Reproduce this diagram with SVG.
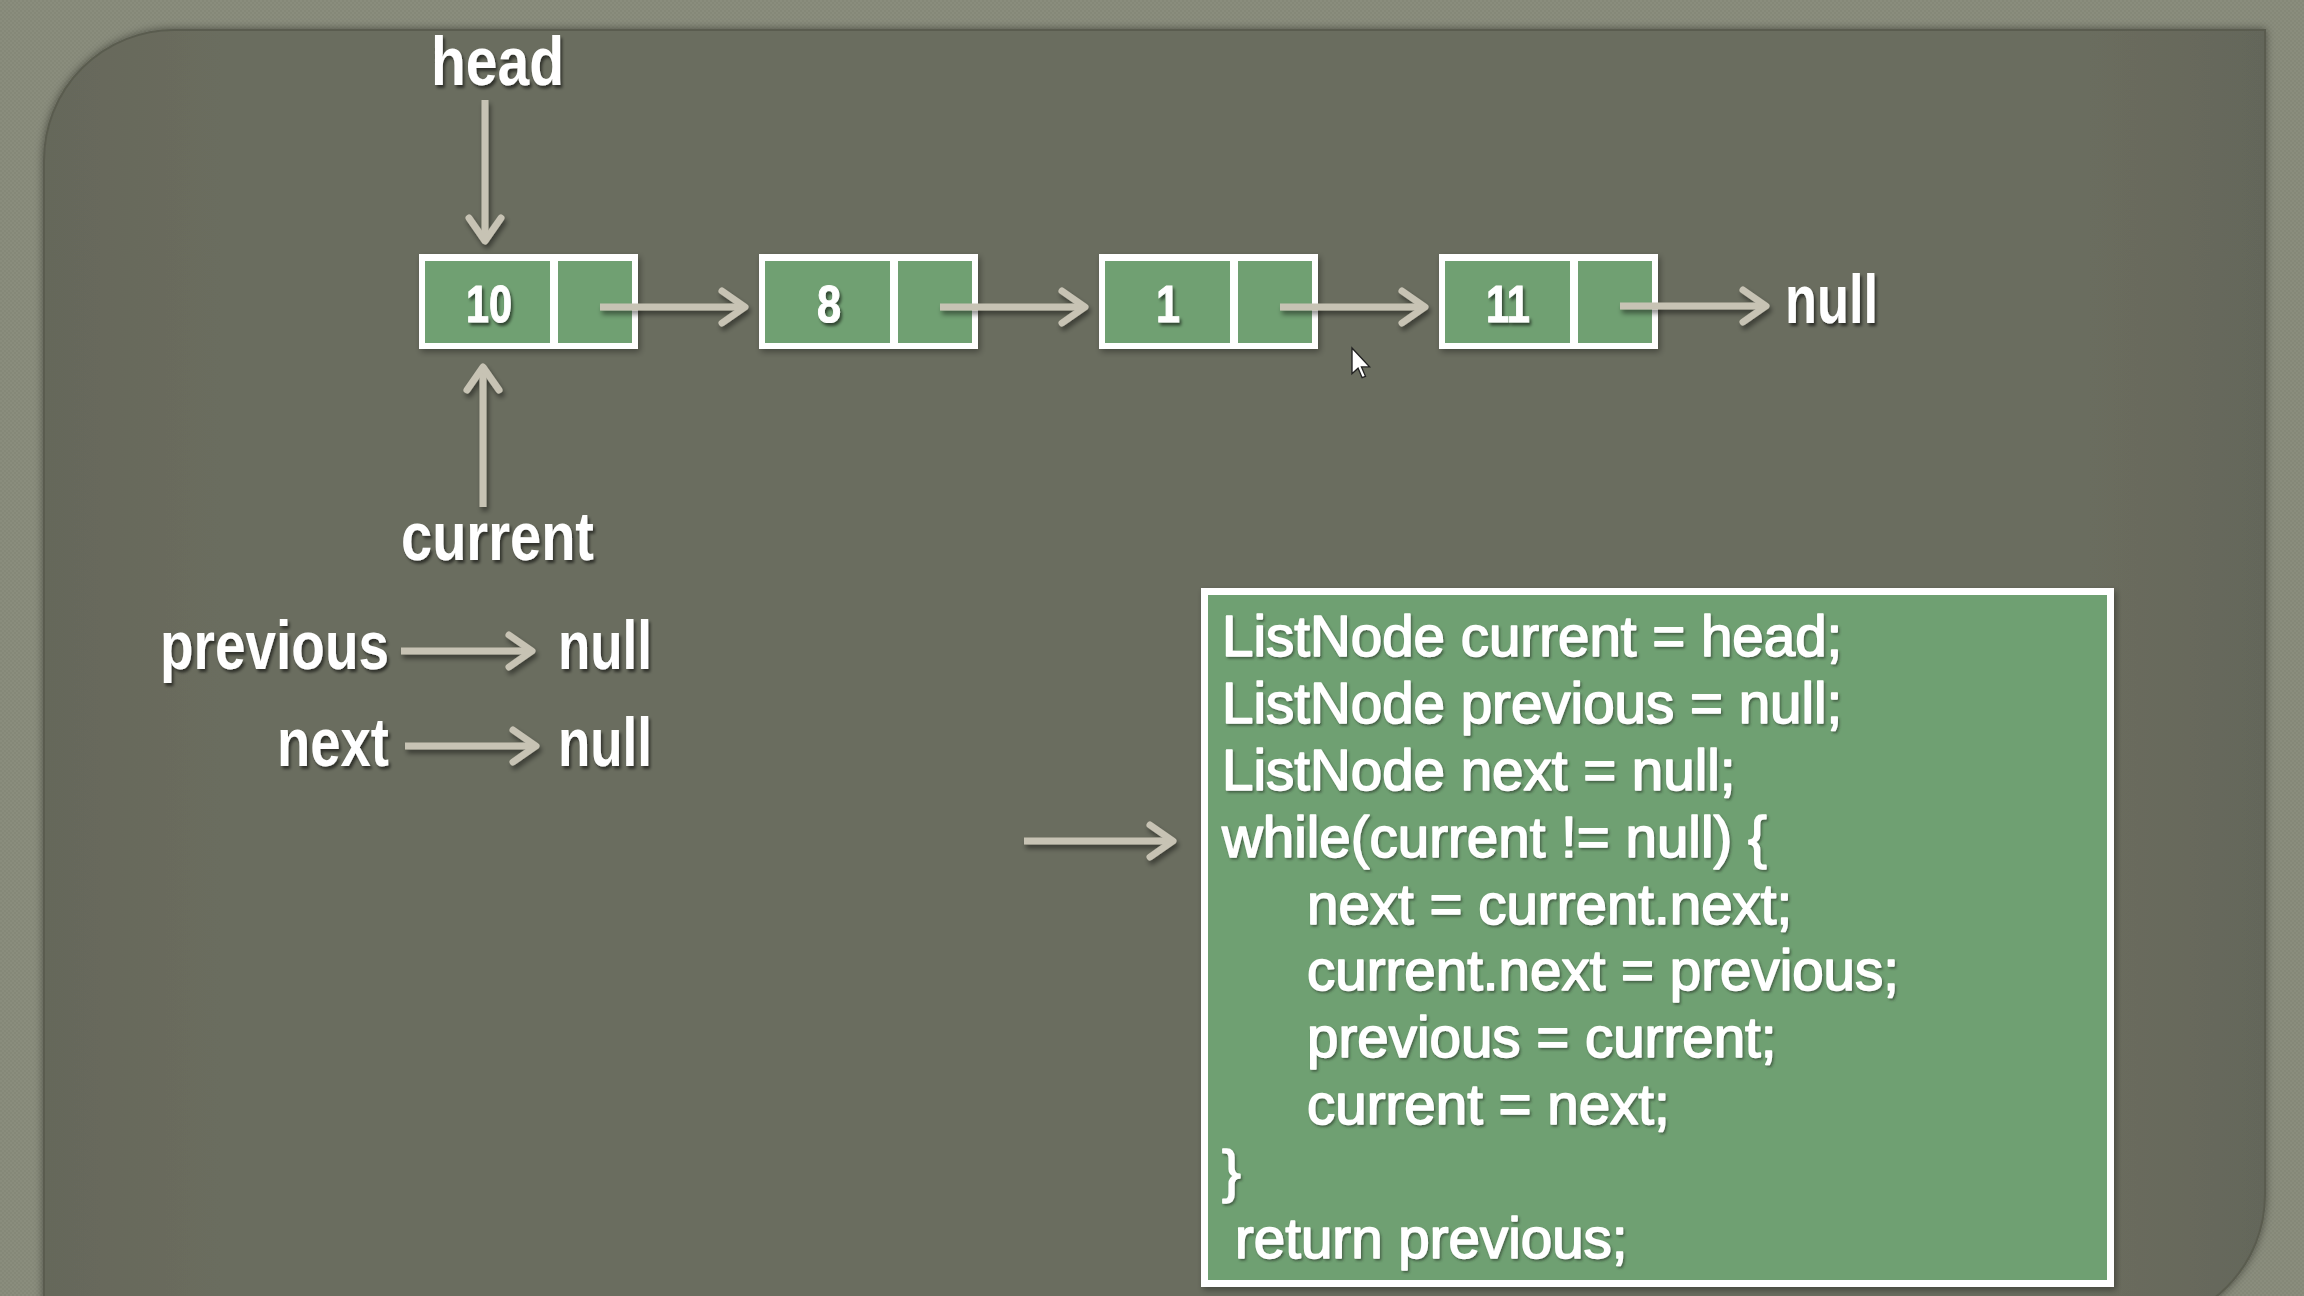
<svg xmlns="http://www.w3.org/2000/svg" width="2304" height="1296" viewBox="0 0 2304 1296">
  <defs>
    <filter id="tshadow" x="-10%" y="-20%" width="130%" height="150%">
      <feDropShadow dx="2" dy="3" stdDeviation="1.5" flood-color="#000" flood-opacity="0.55"/>
    </filter>
    <filter id="cshadow" x="-10%" y="-20%" width="130%" height="150%">
      <feDropShadow dx="1.5" dy="2" stdDeviation="1" flood-color="#2a3a2a" flood-opacity="0.6"/>
    </filter>
    <filter id="ashadow" x="-10%" y="-50%" width="130%" height="250%">
      <feDropShadow dx="2" dy="4" stdDeviation="2.5" flood-color="#000" flood-opacity="0.45"/>
    </filter>
    <filter id="bshadow" x="-5%" y="-5%" width="115%" height="115%">
      <feDropShadow dx="2" dy="3" stdDeviation="3" flood-color="#000" flood-opacity="0.35"/>
    </filter>
    <filter id="pshadow" x="-5%" y="-5%" width="110%" height="110%">
      <feDropShadow dx="0" dy="0" stdDeviation="4" flood-color="#000" flood-opacity="0.45"/>
    </filter>
    <linearGradient id="panelg" x1="0" y1="0" x2="1" y2="0">
      <stop offset="0" stop-color="#65675a"/>
      <stop offset="0.08" stop-color="#6b6d5e"/>
      <stop offset="0.92" stop-color="#6b6d5e"/>
      <stop offset="1" stop-color="#64665a"/>
    </linearGradient>
    <pattern id="weave" width="4" height="4" patternUnits="userSpaceOnUse">
      <rect width="4" height="4" fill="#858878"/>
      <rect width="2" height="2" fill="#8a8d7d"/>
      <rect x="2" y="2" width="2" height="2" fill="#8a8d7d"/>
    </pattern>
    <marker id="chev" viewBox="0 0 40 40" markerUnits="userSpaceOnUse" markerWidth="40" markerHeight="40" refX="32" refY="20" orient="auto">
      <path d="M9,4 L32,20 L9,36" fill="none" stroke="#c7c3b4" stroke-width="7" stroke-linejoin="round" stroke-linecap="round"/>
    </marker>
    <style>
      .lbl { font-family: "Liberation Sans", Arial, sans-serif; font-weight: bold; font-size: 68px; fill: #ffffff; filter: url(#tshadow); }
      .num { font-family: "Liberation Sans", Arial, sans-serif; font-weight: bold; font-size: 52px; fill: #ffffff; stroke: #ffffff; stroke-width: 1; text-anchor: middle; filter: url(#tshadow); }
      .code { font-family: "Liberation Sans", Arial, sans-serif; font-size: 56.5px; fill: #ffffff; stroke: #ffffff; stroke-width: 1.6; stroke-linejoin: round; filter: url(#cshadow); }
      .outer { fill: #ffffff; }
      .cell { fill: #6fa072; }
      .arr { stroke: #c7c3b4; stroke-width: 7; fill: none; marker-end: url(#chev); }
    </style>
  </defs>

  <!-- background -->
  <rect x="0" y="0" width="2304" height="1296" fill="url(#weave)"/>
  <path d="M44,1330 L44,160 A130,130 0 0 1 174,30 L2265,30 L2265,1195 A130,130 0 0 1 2135,1325 Z" fill="url(#panelg)" stroke="#5a5c4f" stroke-width="2" filter="url(#pshadow)"/>

  <!-- labels -->
  <g id="label-head"><text class="lbl" x="431" y="85" textLength="133" lengthAdjust="spacingAndGlyphs">head</text></g>
  <g id="label-current"><text class="lbl" x="401" y="560" textLength="193" lengthAdjust="spacingAndGlyphs">current</text></g>
  <g id="label-previous"><text class="lbl" x="160" y="669" textLength="229" lengthAdjust="spacingAndGlyphs">previous</text></g>
  <g id="label-next"><text class="lbl" x="277" y="766" textLength="112" lengthAdjust="spacingAndGlyphs">next</text></g>
  <g id="null-previous"><text class="lbl" x="558" y="669" textLength="94" lengthAdjust="spacingAndGlyphs">null</text></g>
  <g id="null-next"><text class="lbl" x="558" y="766" textLength="94" lengthAdjust="spacingAndGlyphs">null</text></g>
  <g id="null-end"><text class="lbl" x="1785" y="323" textLength="93" lengthAdjust="spacingAndGlyphs">null</text></g>

  <!-- list nodes -->
  <g id="node-10" filter="url(#bshadow)">
    <rect class="outer" x="419" y="254" width="219" height="95"/>
    <rect class="cell" x="425" y="261" width="125" height="82"/>
    <rect class="cell" x="558" y="261" width="74" height="82"/>
  </g>
  <g id="node-8" filter="url(#bshadow)">
    <rect class="outer" x="759" y="254" width="219" height="95"/>
    <rect class="cell" x="765" y="261" width="125" height="82"/>
    <rect class="cell" x="898" y="261" width="74" height="82"/>
  </g>
  <g id="node-1" filter="url(#bshadow)">
    <rect class="outer" x="1099" y="254" width="219" height="95"/>
    <rect class="cell" x="1105" y="261" width="125" height="82"/>
    <rect class="cell" x="1238" y="261" width="74" height="82"/>
  </g>
  <g id="node-11" filter="url(#bshadow)">
    <rect class="outer" x="1439" y="254" width="219" height="95"/>
    <rect class="cell" x="1445" y="261" width="125" height="82"/>
    <rect class="cell" x="1578" y="261" width="74" height="82"/>
  </g>
  <g id="node-labels">
    <text class="num" x="489" y="322" textLength="46" lengthAdjust="spacingAndGlyphs">10</text>
    <text class="num" x="829" y="322" textLength="24" lengthAdjust="spacingAndGlyphs">8</text>
    <text class="num" x="1168" y="322" textLength="24" lengthAdjust="spacingAndGlyphs">1</text>
    <text class="num" x="1508" y="322" textLength="44" lengthAdjust="spacingAndGlyphs">11</text>
  </g>

  <!-- code box -->
  <g id="code-box">
    <rect x="1201" y="588" width="913" height="699" fill="#ffffff" filter="url(#bshadow)"/>
    <rect x="1208" y="595" width="899" height="685" fill="#6fa072"/>
    <text class="code" x="1222" y="656">ListNode current = head;</text>
    <text class="code" x="1222" y="723">ListNode previous = null;</text>
    <text class="code" x="1222" y="790">ListNode next = null;</text>
    <text class="code" x="1222" y="857">while(current != null) {</text>
    <text class="code" x="1307" y="924">next = current.next;</text>
    <text class="code" x="1307" y="990">current.next = previous;</text>
    <text class="code" x="1307" y="1057">previous = current;</text>
    <text class="code" x="1307" y="1124">current = next;</text>
    <text class="code" x="1222" y="1191">}</text>
    <text class="code" x="1235" y="1258">return previous;</text>
  </g>

  <!-- connectors -->
  <g id="connectors" filter="url(#ashadow)">
    <line class="arr" x1="485" y1="100" x2="485" y2="241"/>
    <line class="arr" x1="483" y1="507" x2="483" y2="367"/>
    <line class="arr" x1="600" y1="307" x2="745" y2="307"/>
    <line class="arr" x1="940" y1="307" x2="1085" y2="307"/>
    <line class="arr" x1="1280" y1="307" x2="1425" y2="307"/>
    <line class="arr" x1="1620" y1="306" x2="1766" y2="306"/>
    <line class="arr" x1="401" y1="651" x2="532" y2="651"/>
    <line class="arr" x1="405" y1="746" x2="536" y2="746"/>
    <line class="arr" x1="1024" y1="841" x2="1173" y2="841"/>
  </g>

  <!-- mouse cursor -->
  <g id="cursor" transform="translate(1352,348) scale(1.35)">
    <path d="M0,0 L0,19 L4.5,15 L7.5,22 L10,21 L7,14 L13,14 Z" fill="#ffffff" stroke="#222" stroke-width="1"/>
  </g>
</svg>
